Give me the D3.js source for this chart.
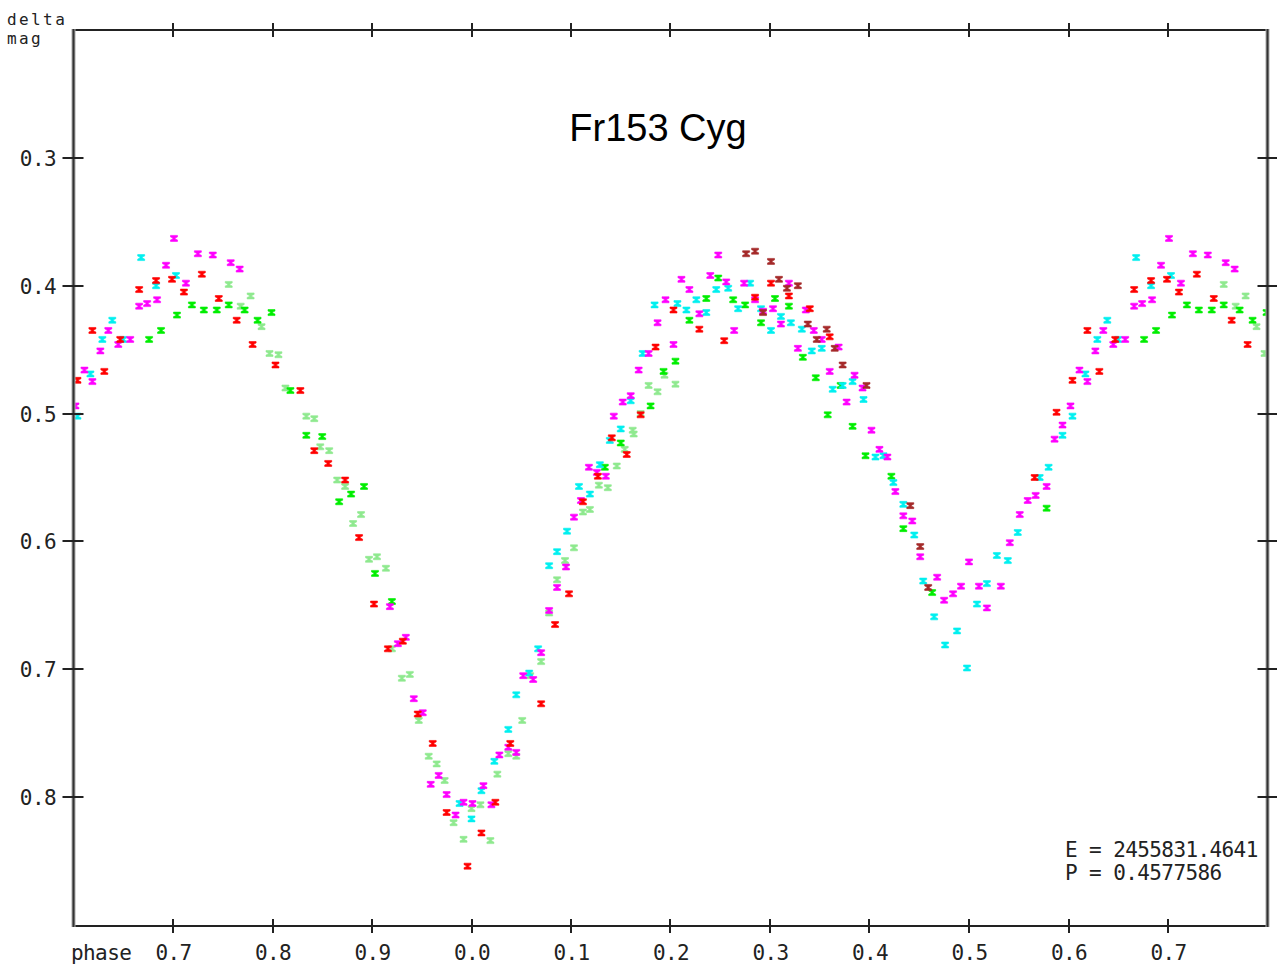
<!DOCTYPE html>
<html>
<head>
<meta charset="utf-8">
<script src="https://cdn.jsdelivr.net/npm/d3@7"></script>
<style>
  body { margin: 0; background: #fff; }
  .mono { font-family: "DejaVu Sans Mono", monospace; font-size: 21px; fill: #222; letter-spacing: -0.6px; }
  .corner { font-family: "DejaVu Sans Mono", monospace; font-size: 16px; fill: #222; letter-spacing: 2.4px; }
</style>
</head>
<body>
<div id="chart"></div>
<script>
// tick positions (phase runs 0.6 .. 1.8, labels folded mod 1)
var phaseTicks = [0.7, 0.8, 0.9, 1.0, 1.1, 1.2, 1.3, 1.4, 1.5, 1.6, 1.7];
var magTicks = [0.3, 0.4, 0.5, 0.6, 0.7, 0.8];

// [phase, delta mag] per observing run
var lightGreenPts = [
  [0.756,0.399],[0.778,0.408],[0.768,0.416],[0.789,0.432],[0.797,0.453],
  [0.806,0.454],[0.813,0.480],[0.834,0.502],[0.842,0.504],[0.848,0.526],[0.857,0.529],[0.865,0.552],[0.873,0.557],
  [0.889,0.579],[0.881,0.586],[0.897,0.614],[0.905,0.612],[0.914,0.621],[0.920,0.684],[0.930,0.707],[0.938,0.704],
  [0.947,0.740],[0.957,0.768],[0.965,0.774],[0.973,0.787],[0.982,0.820],[0.992,0.833],[0.000,0.809],[0.009,0.806],
  [0.019,0.834],[0.026,0.782],[0.037,0.766],[0.045,0.768],[0.051,0.740],[0.059,0.705],[0.070,0.694],[0.078,0.656],
  [0.086,0.630],[0.094,0.615],[0.103,0.605],[0.112,0.577],[0.119,0.575],[0.128,0.556],[0.137,0.558],[0.146,0.541],
  [0.154,0.528],[0.162,0.513],[0.163,0.516],[0.170,0.500],[0.178,0.478],[0.187,0.483],[0.194,0.470],[0.205,0.477]
];
var greenPts = [
  [0.719,0.415],[0.756,0.415],[0.772,0.419],[0.731,0.419],[0.744,0.419],[0.799,0.421],[0.704,0.423],[0.785,0.427],
  [0.688,0.435],[0.676,0.442],
  [0.818,0.482],[0.834,0.517],[0.850,0.518],[0.892,0.557],[0.879,0.563],[0.867,0.569],[0.903,0.625],[0.920,0.647],
  [0.134,0.542],[0.150,0.523],[0.180,0.494],[0.193,0.467],[0.205,0.459],[0.219,0.427],[0.236,0.410],[0.248,0.394],
  [0.263,0.411],[0.275,0.415],[0.291,0.429],[0.305,0.410],[0.319,0.416],[0.333,0.456],[0.346,0.472],[0.358,0.501],
  [0.371,0.478],[0.383,0.510],[0.396,0.533],[0.422,0.549],[0.434,0.590],[0.463,0.640],[0.578,0.574]
];
var cyanPts = [
  [0.668,0.378],[0.703,0.392],[0.683,0.400],[0.639,0.427],[0.629,0.442],[0.650,0.442],[0.617,0.469],[0.604,0.502],
  [0.988,0.805],[0.000,0.817],[0.010,0.795],[0.023,0.772],[0.037,0.747],[0.045,0.720],[0.058,0.703],[0.067,0.684],
  [0.078,0.619],[0.086,0.608],[0.096,0.592],[0.108,0.557],[0.119,0.563],[0.129,0.540],[0.139,0.521],[0.150,0.512],
  [0.160,0.490],[0.172,0.453],[0.184,0.415],[0.207,0.414],[0.216,0.419],[0.226,0.411],[0.236,0.421],[0.246,0.403],
  [0.258,0.402],[0.268,0.418],[0.280,0.398],[0.291,0.418],[0.311,0.424],[0.321,0.429],[0.301,0.435],[0.332,0.434],
  [0.342,0.451],[0.352,0.449],[0.373,0.478],[0.363,0.481],[0.383,0.475],[0.394,0.489],[0.406,0.534],[0.414,0.533],
  [0.424,0.554],[0.434,0.571],[0.445,0.595],[0.454,0.631],[0.465,0.659],[0.476,0.681],[0.488,0.670],[0.498,0.699],
  [0.508,0.649],[0.518,0.633],[0.528,0.611],[0.539,0.615],[0.549,0.593],[0.571,0.550],[0.580,0.542],[0.594,0.517]
];
var magentaPts = [
  [0.701,0.363],[0.725,0.375],[0.740,0.376],[0.693,0.384],[0.713,0.398],[0.758,0.382],[0.767,0.387],[0.684,0.411],
  [0.674,0.414],[0.666,0.416],[0.635,0.435],[0.657,0.442],[0.645,0.446],[0.627,0.451],[0.611,0.466],[0.619,0.475],
  [0.602,0.494],
  [0.918,0.651],[0.934,0.675],[0.926,0.680],[0.942,0.723],[0.951,0.734],[0.967,0.783],[0.959,0.790],[0.975,0.798],
  [0.992,0.804],[0.001,0.805],[0.984,0.814],[0.012,0.791],[0.020,0.806],[0.028,0.767],[0.037,0.761],[0.045,0.765],
  [0.052,0.705],[0.062,0.708],[0.070,0.687],[0.078,0.654],[0.086,0.636],[0.095,0.620],[0.103,0.581],[0.110,0.568],
  [0.118,0.542],[0.126,0.546],[0.135,0.549],[0.143,0.502],[0.152,0.491],[0.160,0.486],[0.168,0.466],[0.178,0.453],
  [0.203,0.446],[0.187,0.429],[0.195,0.411],[0.229,0.422],[0.211,0.395],[0.219,0.403],[0.240,0.392],[0.248,0.376],
  [0.256,0.397],[0.264,0.435],[0.274,0.398],[0.285,0.411],[0.293,0.420],[0.303,0.418],[0.311,0.430],[0.319,0.398],
  [0.336,0.419],[0.344,0.435],[0.352,0.442],[0.328,0.449],[0.369,0.448],[0.360,0.467],[0.385,0.470],[0.377,0.491],
  [0.393,0.480],[0.402,0.513],[0.410,0.528],[0.418,0.534],[0.426,0.561],[0.434,0.580],[0.443,0.584],[0.451,0.612],
  [0.468,0.628],[0.475,0.646],[0.484,0.641],[0.492,0.635],[0.500,0.616],[0.510,0.635],[0.518,0.652],[0.532,0.635],
  [0.541,0.601],[0.551,0.579],[0.559,0.568],[0.567,0.564],[0.578,0.557],[0.586,0.520],[0.594,0.509]
];
var redPts = [
  [0.683,0.396],[0.699,0.395],[0.729,0.391],[0.666,0.403],[0.711,0.405],[0.746,0.410],[0.764,0.427],[0.619,0.435],
  [0.647,0.442],[0.780,0.446],[0.631,0.467],[0.604,0.474],[0.803,0.462],
  [0.828,0.482],[0.842,0.529],[0.856,0.539],[0.873,0.552],[0.887,0.597],[0.902,0.649],[0.916,0.684],[0.931,0.678],
  [0.946,0.735],[0.961,0.758],[0.975,0.812],[0.010,0.828],[0.996,0.854],[0.024,0.804],[0.039,0.758],[0.070,0.727],
  [0.084,0.665],[0.098,0.641],[0.112,0.569],[0.127,0.549],[0.141,0.519],[0.156,0.532],[0.170,0.501],[0.185,0.448],
  [0.203,0.419],[0.229,0.434],[0.254,0.443],[0.285,0.409],[0.301,0.398],[0.319,0.408],[0.340,0.418],[0.360,0.440],
  [0.566,0.550],[0.588,0.499]
];
var brownPts = [
  [0.276,0.375],[0.285,0.373],[0.301,0.381],[0.309,0.395],[0.317,0.402],[0.328,0.400],[0.293,0.421],[0.338,0.430],
  [0.347,0.442],[0.357,0.434],[0.365,0.449],[0.373,0.462],[0.397,0.478],[0.441,0.572],[0.451,0.604],[0.459,0.636]
];

var series = [
  {pts: lightGreenPts, color: "#8fe98f"},
  {pts: greenPts, color: "#00ee00"},
  {pts: cyanPts, color: "#00f0f0"},
  {pts: magentaPts, color: "#ff00ff"},
  {pts: redPts, color: "#ff0000"},
  {pts: brownPts, color: "#a52a2a"}
];

var width = 1277, height = 967;
var plot = {left: 73.5, right: 1267.5, top: 30, bottom: 925};

var svg = d3.select("#chart")
    .append("svg")
    .attr("width", width)
    .attr("height", height);

var x = d3.scaleLinear().domain([0.6, 1.8]).range([plot.left, plot.right]);
var y = d3.scaleLinear().domain([0.2, 0.9]).range([plot.top, plot.bottom]);

// each phase is shown at p and p+1 where it falls inside the window
var marks = [];
series.forEach(function(s) {
    s.pts.forEach(function(d) {
        [d[0], d[0] + 1].forEach(function(p) {
            if (p >= 0.6 && p <= 1.8) marks.push({p: p, m: d[1], color: s.color});
        });
    });
});

svg.append("clipPath").attr("id", "clip")
    .append("rect")
    .attr("x", plot.left).attr("y", plot.top)
    .attr("width", plot.right - plot.left).attr("height", plot.bottom - plot.top);

// error-bar style markers
svg.append("g")
    .attr("clip-path", "url(#clip)")
    .selectAll("path")
    .data(marks)
    .enter()
    .append("path")
    .attr("d", "M-3.5,-3H3.5V-1.5L1.2,-0.5V0.5L3.5,1.5V3H-3.5V1.5L-1.2,0.5V-0.5L-3.5,-1.5Z")
    .attr("transform", function(d) { return "translate(" + x(d.p) + "," + y(d.m) + ")"; })
    .style("fill", function(d) { return d.color; })
    .style("stroke", function(d) { return d.color; })
    .style("stroke-width", 0.6);

// frame
var frame = svg.append("g");
frame.append("line").attr("x1", plot.left).attr("x2", plot.right).attr("y1", plot.top).attr("y2", plot.top)
    .attr("stroke", "#222").attr("stroke-width", 2);
frame.append("line").attr("x1", plot.left).attr("x2", plot.right).attr("y1", plot.bottom + 1).attr("y2", plot.bottom + 1)
    .attr("stroke", "#222").attr("stroke-width", 2);
[plot.left, plot.right].forEach(function(xx) {
    frame.append("line").attr("x1", xx).attr("x2", xx).attr("y1", plot.top - 1).attr("y2", plot.bottom + 2)
        .attr("stroke", "#aaa").attr("stroke-width", 4);
    frame.append("line").attr("x1", xx).attr("x2", xx).attr("y1", plot.top - 1).attr("y2", plot.bottom + 2)
        .attr("stroke", "#333").attr("stroke-width", 2);
});

// crossing ticks
frame.selectAll(".tx")
    .data(phaseTicks)
    .enter()
    .append("path")
    .attr("d", function(d) {
        var xx = Math.round(x(d));
        return "M" + xx + "," + (plot.top - 7) + "V" + (plot.top + 7) +
            "M" + xx + "," + (plot.bottom - 6) + "V" + (plot.bottom + 8);
    })
    .attr("stroke", "#222").attr("stroke-width", 2);
frame.selectAll(".ty")
    .data(magTicks)
    .enter()
    .append("path")
    .attr("d", function(d) {
        var yy = Math.round(y(d));
        return "M" + (plot.left - 11) + "," + yy + "H" + (plot.left + 10) +
            "M" + (plot.right - 10) + "," + yy + "H" + (plot.right + 11);
    })
    .attr("stroke", "#222").attr("stroke-width", 2);

// tick labels
var xAxis = svg.append("g")
    .attr("transform", "translate(0,960)")
    .call(d3.axisBottom(x).tickValues(phaseTicks).tickSize(0)
        .tickFormat(function(d) { return (d % 1).toFixed(1); }));
xAxis.select(".domain").remove();
xAxis.selectAll("text").attr("class", "mono").attr("y", 0).attr("dy", 0);

var yAxis = svg.append("g")
    .attr("transform", "translate(56,0)")
    .call(d3.axisLeft(y).tickValues(magTicks).tickSize(0).tickPadding(0)
        .tickFormat(d3.format(".1f")));
yAxis.select(".domain").remove();
yAxis.selectAll("text").attr("class", "mono").attr("dy", "0.36em");
xAxis.attr("font-family", null).attr("font-size", null);
yAxis.attr("font-family", null).attr("font-size", null);

svg.append("text").attr("class", "mono").attr("x", 71).attr("y", 960).text("phase");
svg.append("text").attr("class", "corner").attr("x", 7).attr("y", 25).text("delta");
svg.append("text").attr("class", "corner").attr("x", 7).attr("y", 44).text("mag");

svg.append("text").attr("class", "mono").attr("x", 1065).attr("y", 857).text("E = 2455831.4641");
svg.append("text").attr("class", "mono").attr("x", 1065).attr("y", 880).text("P = 0.4577586");

svg.append("text")
    .attr("x", 658).attr("y", 141)
    .attr("text-anchor", "middle")
    .style("font-family", "'Liberation Sans', Arial, sans-serif")
    .style("font-size", "38px")
    .style("fill", "#000")
    .text("Fr153 Cyg");
</script>
</body>
</html>
